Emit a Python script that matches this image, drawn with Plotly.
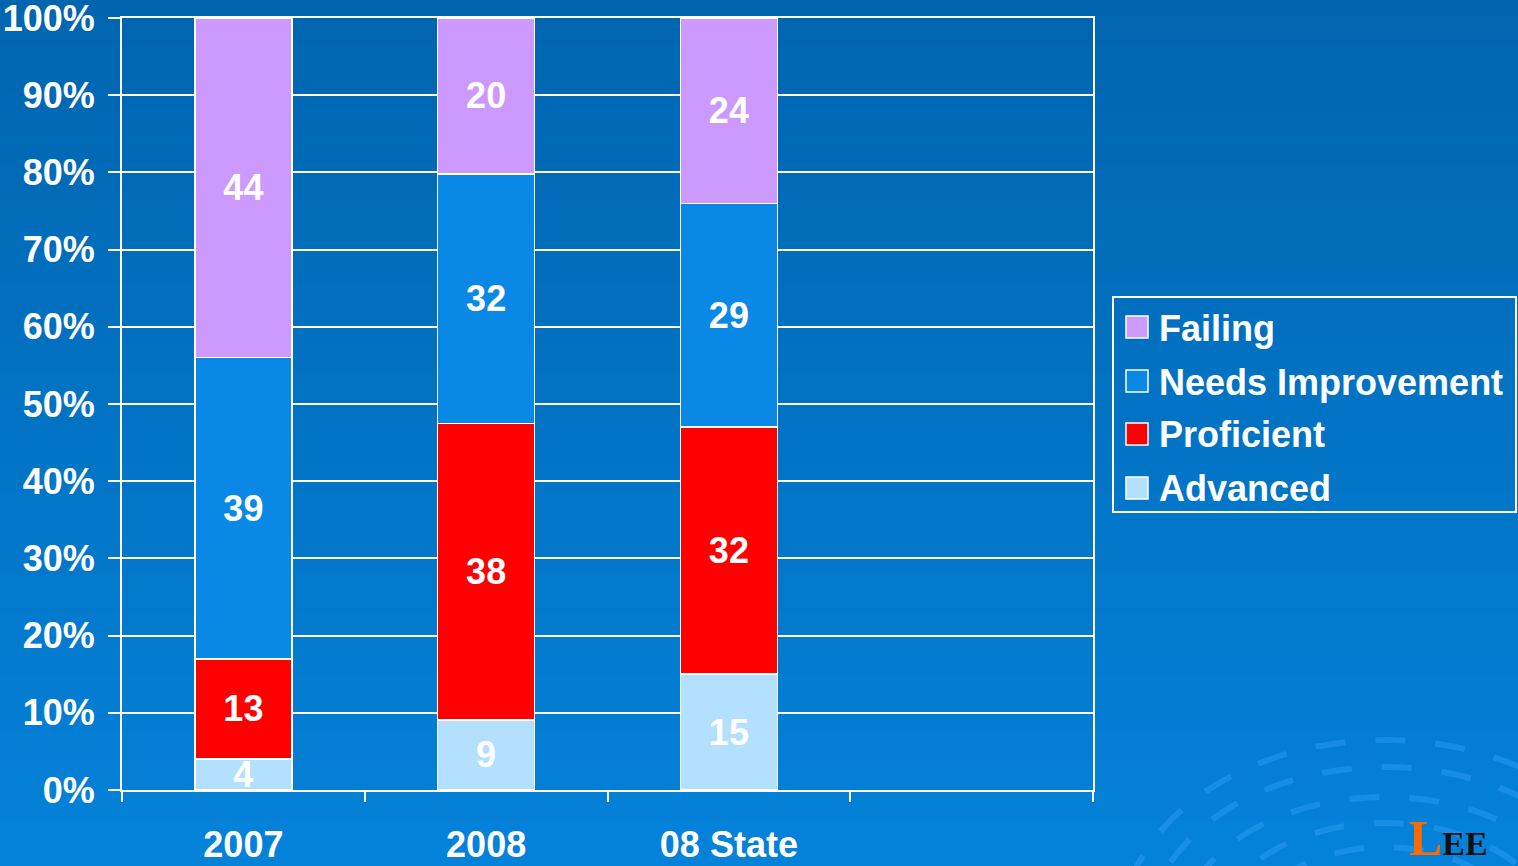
import base64, struct, zlib
import plotly.graph_objects as go

categories = ["2007", "2008", "08 State", " "]
advanced = [4, 9, 15, None]
proficient = [13, 38, 32, None]
needs_improvement = [39, 32, 29, None]
failing = [44, 20, 24, None]
series_names = ["Advanced", "Proficient", "Needs Improvement", "Failing"]
series_colors = ["#b3e0ff", "#ff0000", "#0a88e6", "#cc99ff"]
y_ticks = [0, 10, 20, 30, 40, 50, 60, 70, 80, 90, 100]

W, H = 1518, 866
L, R, T, B = 122, 1093, 18, 790  # plot area in pixels


def px2x(px):
    return (px - L) / (R - L)


def px2y(py):
    return (B - py) / (B - T)


def gradient_png(h, top, bot):
    raw = b""
    for i in range(h):
        t = i / (h - 1)
        c = bytes(int(round(top[k] + (bot[k] - top[k]) * t)) for k in range(3))
        raw += b"\x00" + c

    def chunk(tag, data):
        return struct.pack(">I", len(data)) + tag + data + struct.pack(">I", zlib.crc32(tag + data) & 0xffffffff)

    png = b"\x89PNG\r\n\x1a\n"
    png += chunk(b"IHDR", struct.pack(">IIBBBBB", 1, h, 8, 2, 0, 0, 0))
    png += chunk(b"IDAT", zlib.compress(raw))
    png += chunk(b"IEND", b"")
    return "data:image/png;base64," + base64.b64encode(png).decode()


bg = gradient_png(H, (0, 101, 175), (4, 130, 218))

FONT = "Liberation Sans, Arial, sans-serif"

fig = go.Figure()
for name, vals, col in zip(series_names, [advanced, proficient, needs_improvement, failing], series_colors):
    fig.add_trace(go.Bar(
        x=categories, y=vals, name=name, showlegend=False,
        marker=dict(color=col, line=dict(color="white", width=1.5)),
        text=[("" if v is None else str(v)) for v in vals],
        textposition="inside", insidetextanchor="middle", textangle=0,
        textfont=dict(color="white", size=36, family=FONT, weight="bold"),
        hoverinfo="skip",
    ))

shapes = []
annotations = []

# decorative swirl
ellipses = [(265, 195), (238, 168), (205, 138), (170, 112), (135, 88), (100, 62)]
cx, cy = 1385, 935
for rx, ry in ellipses:
    shapes.append(dict(
        type="circle", xref="paper", yref="paper", layer="below",
        x0=px2x(cx - rx), x1=px2x(cx + rx), y0=px2y(cy + ry), y1=px2y(cy - ry),
        line=dict(color="rgba(60,170,255,0.35)", width=6, dash="longdash"),
    ))

# legend (box, swatches, labels) — order top to bottom: reversed stack order
shapes.append(dict(
    type="rect", xref="paper", yref="paper", layer="above",
    x0=px2x(1113), x1=px2x(1516), y0=px2y(512), y1=px2y(297),
    line=dict(color="white", width=2), fillcolor="rgba(0,0,0,0)",
))
leg_rows = [327, 381, 434, 488]
for row_y, name, col in zip(leg_rows, series_names[::-1], series_colors[::-1]):
    shapes.append(dict(
        type="rect", xref="paper", yref="paper", layer="above",
        x0=px2x(1126), x1=px2x(1148), y0=px2y(row_y + 11), y1=px2y(row_y - 11),
        line=dict(color="white", width=1.5), fillcolor=col,
    ))
    annotations.append(dict(
        xref="paper", yref="paper", x=px2x(1157), y=px2y(row_y + 1),
        xanchor="left", yanchor="middle", showarrow=False, text=name,
        font=dict(family=FONT, color="white", size=36, weight="bold"),
    ))

annotations.append(dict(
    xref="paper", yref="paper", x=px2x(1407), y=px2y(868),
    xanchor="left", yanchor="bottom", showarrow=False,
    text="<span style='color:#ff6a00;font-size:50px'>L</span>EE",
    font=dict(family="Liberation Serif, Times New Roman, serif", size=34, color="#101010"),
))

fig.update_layout(
    width=W, height=H,
    margin=dict(l=L, r=W - R, t=T, b=H - B, pad=0, autoexpand=False),
    barmode="stack", barnorm="percent", bargap=0.6,
    paper_bgcolor="#0072c2", plot_bgcolor="rgba(0,0,0,0)",
    font=dict(family=FONT, color="white", size=36, weight="bold"),
    uniformtext=dict(minsize=36, mode="show"),
    showlegend=False,
    xaxis=dict(
        type="category", categoryorder="array", categoryarray=categories,
        range=[-0.5, 3.5], tickson="boundaries", ticks="outside", ticklen=10,
        tickwidth=2, tickcolor="white", showline=True, linecolor="white",
        linewidth=2, mirror=True, showgrid=False, ticklabelstandoff=22,
        automargin=False, ticklabeloverflow="allow",
        tickfont=dict(family=FONT, color="white", size=36, weight="bold"),
    ),
    yaxis=dict(
        range=[0, 100], tickmode="array", tickvals=y_ticks,
        ticktext=[f"{v}%" for v in y_ticks], showgrid=True,
        gridcolor="white", gridwidth=2, showline=True, linecolor="white",
        linewidth=2, mirror=True, ticks="outside", ticklen=12, tickwidth=2,
        tickcolor="white", zeroline=False, ticklabelstandoff=6,
        automargin=False, ticklabeloverflow="allow",
        tickfont=dict(family=FONT, color="white", size=36, weight="bold"),
    ),
    images=[dict(
        source=bg, xref="paper", yref="paper",
        x=px2x(0), y=px2y(0), sizex=W / (R - L), sizey=H / (B - T),
        xanchor="left", yanchor="top", sizing="stretch", layer="below",
    )],
    shapes=shapes,
    annotations=annotations,
)

fig.write_html(
    "out.html",
    config={"displayModeBar": False, "responsive": False},
    post_script="document.body.style.margin='0';document.body.style.overflow='hidden';",
)
